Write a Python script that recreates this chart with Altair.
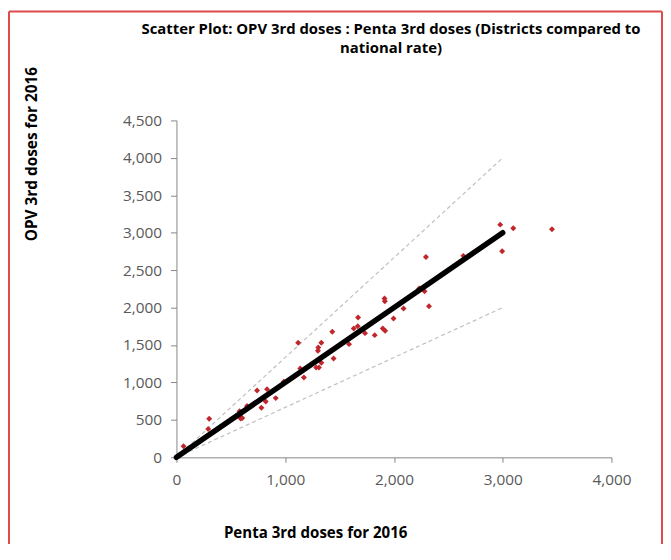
import altair as alt
import pandas as pd

# Penta 3rd doses (x) and OPV 3rd doses (y) per district, 2016
penta = [65, 301, 292, 581, 590, 605, 649, 741, 781, 821,
         833, 913, 987, 1119, 1138, 1172, 1285, 1310, 1301, 1304,
         1332, 1332, 1433, 1445, 1587, 1630, 1667, 1670, 1734, 1823,
         1897, 1919, 1913, 1916, 1996, 2088, 2232, 2281, 2294, 2322,
         2638, 2977, 2995, 3097, 3453]
opv = [147, 516, 378, 615, 520, 525, 685, 894, 663, 747,
       911, 791, 1010, 1530, 1187, 1067, 1200, 1200, 1423, 1467,
       1530, 1263, 1677, 1321, 1512, 1721, 1752, 1868, 1659, 1632,
       1721, 1690, 2121, 2085, 1854, 1988, 2255, 2219, 2677, 2018,
       2691, 3108, 2752, 3059, 3046]

# national-rate line and +/- bands
line_x = [0, 3000]
national_y = [0, 3000]
upper_y = [0, 4000]
lower_y = [0, 2000]

x_ticks = [0, 1000, 2000, 3000, 4000]
y_ticks = [0, 500, 1000, 1500, 2000, 2500, 3000, 3500, 4000, 4500]

title_lines = ["Scatter Plot: OPV 3rd doses : Penta 3rd doses (Districts compared to",
               "national rate)"]

FONT = "Open Sans"

pts = pd.DataFrame({"penta": penta, "opv": opv})
lines = pd.DataFrame({
    "x": line_x * 3,
    "y": national_y + upper_y + lower_y,
    "series": ["national"] * 2 + ["upper"] * 2 + ["lower"] * 2,
})

xscale = alt.Scale(domain=[0, 4000], nice=False, zero=True)
yscale = alt.Scale(domain=[0, 4500], nice=False, zero=True)

xaxis = alt.Axis(
    values=x_ticks, format=",.0f", grid=False, labelOverlap=False, labelFlush=False,
    labelFont=FONT, labelFontSize=15.5, labelColor="#595959", labelPadding=10,
    tickColor="#868686", domainColor="#868686", tickSize=5,
    title="Penta 3rd doses for 2016", titleFont=FONT, titleFontSize=15.2,
    titleFontWeight="bold", titleColor="#000000",
    titleX=140, titleY=76, titleAlign="center", titleBaseline="middle",
)
yaxis = alt.Axis(
    values=y_ticks, format=",.0f", grid=False, labelOverlap=False, labelFlush=False,
    labelFont=FONT, labelFontSize=15.5, labelColor="#595959", labelPadding=9,
    tickColor="#868686", domainColor="#868686", tickSize=6,
    title="OPV 3rd doses for 2016", titleFont=FONT, titleFontSize=15.5,
    titleFontWeight="bold", titleColor="#000000",
    titleX=-146, titleY=33.5, titleAngle=270, titleAlign="center", titleBaseline="middle",
)

X = alt.X("x:Q", scale=xscale, axis=xaxis)
Y = alt.Y("y:Q", scale=yscale, axis=yaxis)

dashed = alt.Chart(lines).transform_filter(
    alt.datum.series != "national"
).mark_line(strokeDash=[4, 3], color="#bfbfbf", strokeWidth=1.2).encode(
    x=X, y=Y, detail="series:N",
)

points = alt.Chart(pts).mark_point(
    shape="diamond", filled=True, size=36, color="#c0262c", opacity=1
).encode(
    x=alt.X("penta:Q", scale=xscale, axis=xaxis),
    y=alt.Y("opv:Q", scale=yscale, axis=yaxis),
)

national = alt.Chart(lines).transform_filter(
    alt.datum.series == "national"
).mark_line(color="#000000", strokeWidth=5.5, strokeCap="round").encode(
    x=X, y=Y,
)

# the two lines of the chart title, as text marks above the plot
title1 = alt.Chart(pd.DataFrame({"t": [title_lines[0]]})).mark_text(
    font=FONT, fontSize=15, fontWeight="bold", color="#000000",
    align="center", baseline="middle",
).encode(text="t:N", x=alt.value(216.5), y=alt.value(-92))
title2 = alt.Chart(pd.DataFrame({"t": [title_lines[1]]})).mark_text(
    font=FONT, fontSize=15, fontWeight="bold", color="#000000",
    align="center", baseline="middle",
).encode(text="t:N", x=alt.value(216.5), y=alt.value(-73))

# red frame around the chart area
one = pd.DataFrame({"a": [0]})
border_color = "#dd4b4b"
border_left = alt.Chart(one).mark_rule(color=border_color, strokeWidth=2).encode(
    x=alt.value(-169), y=alt.value(-110), y2=alt.value(430))
border_top = alt.Chart(one).mark_rule(color=border_color, strokeWidth=2).encode(
    x=alt.value(-169), x2=alt.value(490), y=alt.value(-110))
border_right = alt.Chart(one).mark_rule(color=border_color, strokeWidth=2).encode(
    x=alt.value(490), y=alt.value(-110), y2=alt.value(430))

chart = alt.layer(
    dashed, points, national, title1, title2, border_left, border_top, border_right
).properties(
    width=439, height=340,
    autosize=alt.AutoSizeParams(type="none"),
    padding={"left": 170, "top": 111, "right": 52, "bottom": 85},
).configure(background="white", view=alt.ViewConfig(stroke=None))

chart.save("out.html", embed_options={"renderer": "svg", "actions": False})
